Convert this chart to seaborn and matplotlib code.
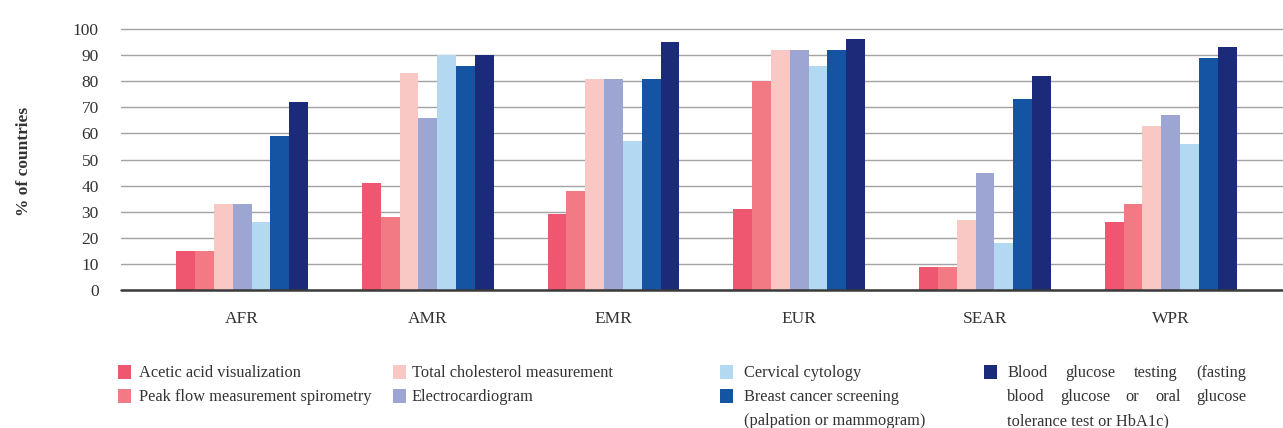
import pandas as pd
import matplotlib
matplotlib.use("Agg")
import matplotlib.pyplot as plt
import seaborn as sns
from matplotlib.patches import Rectangle

# Data
regions = ["AFR", "AMR", "EMR", "EUR", "SEAR", "WPR"]
tests = [
    "Acetic acid visualization",
    "Peak flow measurement spirometry",
    "Total cholesterol measurement",
    "Electrocardiogram",
    "Cervical cytology",
    "Breast cancer screening (palpation or mammogram)",
    "Blood glucose testing (fasting blood glucose or oral glucose tolerance test or HbA1c)",
]
acetic = [15, 41, 29, 31, 9, 26]
peak_flow = [15, 28, 38, 80, 9, 33]
cholesterol = [33, 83, 81, 92, 27, 63]
ecg = [33, 66, 81, 92, 45, 67]
cervical = [26, 90, 57, 86, 18, 56]
breast = [59, 86, 81, 92, 73, 89]
glucose = [72, 90, 95, 96, 82, 93]

colors = ["#EF5670", "#F27A84", "#F9C8C4", "#9DA6D2", "#B3D8F1", "#1454A2", "#1B2B7A"]

# legend text as shown (line broken like the reference)
legend_lines = [
    ["Acetic acid visualization"],
    ["Peak flow measurement spirometry"],
    ["Total cholesterol measurement"],
    ["Electrocardiogram"],
    ["Cervical cytology"],
    ["Breast cancer screening", "(palpation or mammogram)"],
    ["Blood glucose testing (fasting", "blood glucose or oral glucose", "tolerance test or HbA1c)"],
]


def build_frame():
    """Long-format table for seaborn."""
    series = [acetic, peak_flow, cholesterol, ecg, cervical, breast, glucose]
    rows = []
    for test, values in zip(tests, series):
        for region, v in zip(regions, values):
            rows.append({"Region": region, "Test": test, "Percent": v})
    return pd.DataFrame(rows)


def justified_line(fig, renderer, x0, x1, y, line, **kw):
    """Spread the words of one line across x0..x1 (pixels)."""
    words = line.split(" ")
    texts = [fig.text(0, 1 - y / fig.bbox.height, w, ha="left", va="baseline", **kw)
             for w in words]
    widths = [t.get_window_extent(renderer).width for t in texts]
    gap = (x1 - x0 - sum(widths)) / max(len(words) - 1, 1)
    x = x0
    for t, w in zip(texts, widths):
        t.set_x(x / fig.bbox.width)
        x += w + gap


def main():
    sns.set_style("white")
    plt.rcParams["font.family"] = ["Liberation Serif", "DejaVu Serif"]
    text_color = "#333333"

    W, H = 1283, 428
    fig = plt.figure(figsize=(W / 100, H / 100), dpi=100)
    ax = fig.add_axes([121 / W, 1 - 290 / H, 1162 / W, 263.6 / H])

    data = build_frame()
    sns.barplot(
        data=data, x="Region", y="Percent", hue="Test",
        order=regions, hue_order=tests, palette=colors,
        saturation=1, width=0.71, gap=0, legend=False,
        linewidth=0, ax=ax,
    )

    ax.set_ylim(0, 101)
    ax.set_xlim(-0.652, 5.605)
    ax.set_yticks(range(0, 101, 10))
    ax.yaxis.grid(True, color="#a3a3a3", linewidth=1.0)
    ax.set_axisbelow(True)
    for s in ["top", "right", "left", "bottom"]:
        ax.spines[s].set_visible(False)
    ax.axhline(0, color="#3a3a3a", linewidth=1.8, zorder=5, clip_on=False)

    ax.tick_params(axis="y", length=0, pad=16, labelsize=12.5, labelcolor=text_color)
    ax.tick_params(axis="x", length=0, pad=15, labelsize=12.5, labelcolor=text_color)
    ax.set_xlabel("")
    ax.set_ylabel("")

    fig.text(24 / W, 1 - 161 / H, "% of countries", rotation=90, ha="center",
             va="center", fontsize=12.5, fontweight="bold", color=text_color)

    # legend, four columns laid out like the reference
    renderer = fig.canvas.get_renderer()
    square_x = [118, 393, 720, 984]
    text_x = [139, 412, 744, 1007]
    row_base = [377, 401, 425]
    slots = [(0, 0), (0, 1), (1, 0), (1, 1), (2, 0), (2, 1), (3, 0)]
    fs = 11.8
    for i, (col, row) in enumerate(slots):
        sq_top = row_base[row] - 12
        fig.patches.append(Rectangle(
            (square_x[col] / W, 1 - (sq_top + 14) / H), 13 / W, 14 / H,
            transform=fig.transFigure, facecolor=colors[i], edgecolor="none"))
        lines = legend_lines[i]
        for k, line in enumerate(lines):
            if col == 3 and k < len(lines) - 1:
                justified_line(fig, renderer, text_x[col], 1246, row_base[row + k],
                               line, fontsize=fs, color=text_color)
            else:
                fig.text(text_x[col] / W, 1 - row_base[row + k] / H, line,
                         ha="left", va="baseline", fontsize=fs, color=text_color)

    fig.savefig("out.png", dpi=100, facecolor="white")


if __name__ == "__main__":
    main()
